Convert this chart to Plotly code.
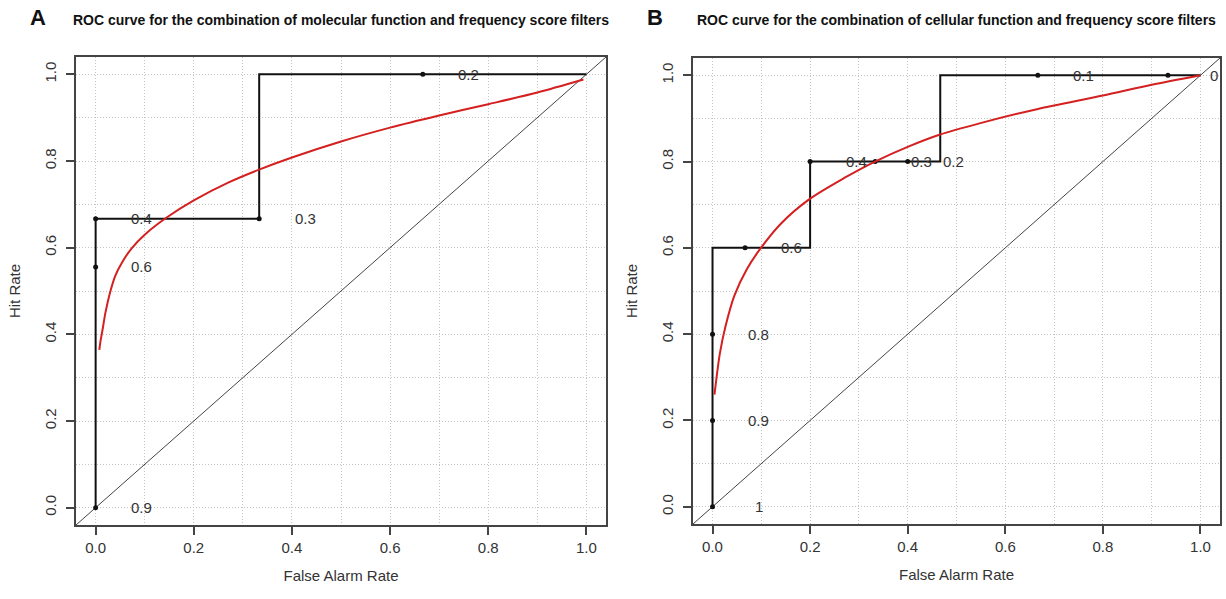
import plotly.graph_objects as go

# ---------------- data ----------------
# Panel A: molecular function + frequency score
A_step_far = [0.0, 0.0, 0.3333, 0.3333, 1.0]
A_step_hr = [0.0, 0.6667, 0.6667, 1.0, 1.0]
A_thr_far = [0.0, 0.0, 0.0, 0.3333, 0.6667]
A_thr_hr = [0.0, 0.5556, 0.6667, 0.6667, 1.0]
A_thr_lab = ["0.9", "0.6", "0.4", "0.3", "0.2"]
A_fit_far = [0.0075, 0.01, 0.014, 0.02, 0.029, 0.04, 0.055, 0.073, 0.1, 0.144,
             0.2, 0.27, 0.333, 0.4, 0.5, 0.6, 0.7, 0.8, 0.9, 0.994]
A_fit_hr = [0.364, 0.385, 0.41, 0.45, 0.495, 0.535, 0.568, 0.598, 0.630, 0.669,
            0.709, 0.750, 0.780, 0.808, 0.845, 0.877, 0.905, 0.931, 0.958, 0.988]

# Panel B: cellular function + frequency score
B_step_far = [0.0, 0.0, 0.2, 0.2, 0.4667, 0.4667, 1.0]
B_step_hr = [0.0, 0.6, 0.6, 0.8, 0.8, 1.0, 1.0]
B_thr_far = [0.0, 0.0, 0.0, 0.0667, 0.2, 0.3333, 0.4, 0.6667, 0.9333]
B_thr_hr = [0.0, 0.2, 0.4, 0.6, 0.8, 0.8, 0.8, 1.0, 1.0]
B_thr_lab = ["1", "0.9", "0.8", "0.6", "0.4", "0.3", "0.2", "0.1", "0"]
B_fit_far = [0.004, 0.015, 0.027, 0.045, 0.07, 0.098, 0.14, 0.2, 0.27, 0.333,
             0.4, 0.465, 0.549, 0.667, 0.8, 0.9, 1.0]
B_fit_hr = [0.26, 0.355, 0.42, 0.49, 0.55, 0.598, 0.656, 0.714, 0.762, 0.80,
            0.834, 0.862, 0.889, 0.922, 0.953, 0.978, 1.0]

titles = ["ROC curve for the combination of molecular function and frequency score filters",
          "ROC curve for the combination of cellular function and frequency score filters"]
letters = ["A", "B"]
tick_vals = [0.0, 0.2, 0.4, 0.6, 0.8, 1.0]
tick_text = ["0.0", "0.2", "0.4", "0.6", "0.8", "1.0"]
AX_RANGE = [-0.04, 1.04]

W, H = 1226, 599
FONT = "Liberation Sans, Arial, sans-serif"
TXT = "#333333"
GRID = "#c4c4c4"
GRID_DASH = "1px,2px"

# pixel boxes of plot regions (left, right, top, bottom)
boxes = [(76, 606, 57, 525), (693, 1220, 58, 524)]

fig = go.Figure()

panels = [
    (A_step_far, A_step_hr, A_thr_far, A_thr_hr, A_thr_lab, A_fit_far, A_fit_hr),
    (B_step_far, B_step_hr, B_thr_far, B_thr_hr, B_thr_lab, B_fit_far, B_fit_hr),
]

annotations = []
for i, (sf, sh, tf, th, tl, ff, fh) in enumerate(panels):
    xa = "x" if i == 0 else "x2"
    ya = "y" if i == 0 else "y2"
    # diagonal reference line
    fig.add_trace(go.Scatter(x=AX_RANGE, y=AX_RANGE, mode="lines", xaxis=xa, yaxis=ya,
                             line=dict(color="#444444", width=1), showlegend=False,
                             hoverinfo="skip"))
    # empirical step curve
    fig.add_trace(go.Scatter(x=sf, y=sh, mode="lines", xaxis=xa, yaxis=ya,
                             line=dict(color="#111111", width=2), showlegend=False))
    # threshold points
    fig.add_trace(go.Scatter(x=tf, y=th, mode="markers", xaxis=xa, yaxis=ya,
                             marker=dict(color="#111111", size=5), showlegend=False))
    # fitted smooth ROC curve
    fig.add_trace(go.Scatter(x=ff, y=fh, mode="lines", xaxis=xa, yaxis=ya,
                             line=dict(color="#d42020", width=2, shape="spline",
                                       smoothing=0.8),
                             showlegend=False))
    for x, y, t in zip(tf, th, tl):
        annotations.append(dict(x=x, y=y, xref=xa, yref=ya, text=t, showarrow=False,
                                xshift=46, xanchor="center", yanchor="middle",
                                font=dict(family=FONT, size=15, color=TXT)))
    l, r, t, b = boxes[i]
    annotations.append(dict(x=(l + r) / 2 / W, y=1 - 20 / H, xref="paper", yref="paper",
                            text="<b>" + titles[i] + "</b>", showarrow=False,
                            xanchor="center", yanchor="middle",
                            font=dict(family=FONT, size=14, color="#111111")))
    annotations.append(dict(x=(l - 38) / W, y=1 - 18 / H, xref="paper", yref="paper",
                            text="<b>" + letters[i] + "</b>", showarrow=False,
                            xanchor="center", yanchor="middle",
                            font=dict(family=FONT, size=22, color="#111111")))

def xaxis(i):
    l, r, t, b = boxes[i]
    return dict(domain=[l / W, r / W], range=AX_RANGE, anchor="y" if i == 0 else "y2",
                tickvals=tick_vals, ticktext=tick_text, ticks="outside", ticklen=8,
                tickcolor="#444444", tickwidth=1.5,
                showline=True, mirror=True, linecolor="#444444", linewidth=1.5,
                showgrid=True, gridcolor=GRID, griddash=GRID_DASH, gridwidth=1,
                minor=dict(dtick=0.1, tick0=0, showgrid=True, gridcolor=GRID,
                           griddash=GRID_DASH, ticks=""),
                zeroline=False, tickfont=dict(family=FONT, size=15, color=TXT),
                title=dict(text="False Alarm Rate", standoff=16,
                           font=dict(family=FONT, size=15, color=TXT)))

def yaxis(i):
    l, r, t, b = boxes[i]
    return dict(domain=[1 - b / H, 1 - t / H], range=AX_RANGE, anchor="x" if i == 0 else "x2",
                tickvals=tick_vals, ticktext=tick_text, ticks="outside", ticklen=8,
                tickcolor="#444444", tickwidth=1.5, tickangle=-90,
                ticklabelstandoff=4,
                showline=True, mirror=True, linecolor="#444444", linewidth=1.5,
                showgrid=True, gridcolor=GRID, griddash=GRID_DASH, gridwidth=1,
                minor=dict(dtick=0.1, tick0=0, showgrid=True, gridcolor=GRID,
                           griddash=GRID_DASH, ticks=""),
                zeroline=False, tickfont=dict(family=FONT, size=15, color=TXT),
                title=dict(text="Hit Rate", standoff=18,
                           font=dict(family=FONT, size=15, color=TXT)))

fig.update_layout(
    width=W, height=H, margin=dict(l=0, r=0, t=0, b=0),
    paper_bgcolor="white", plot_bgcolor="white",
    xaxis=xaxis(0), yaxis=yaxis(0), xaxis2=xaxis(1), yaxis2=yaxis(1),
    annotations=annotations, showlegend=False,
)

fig.write_html("out.html")
